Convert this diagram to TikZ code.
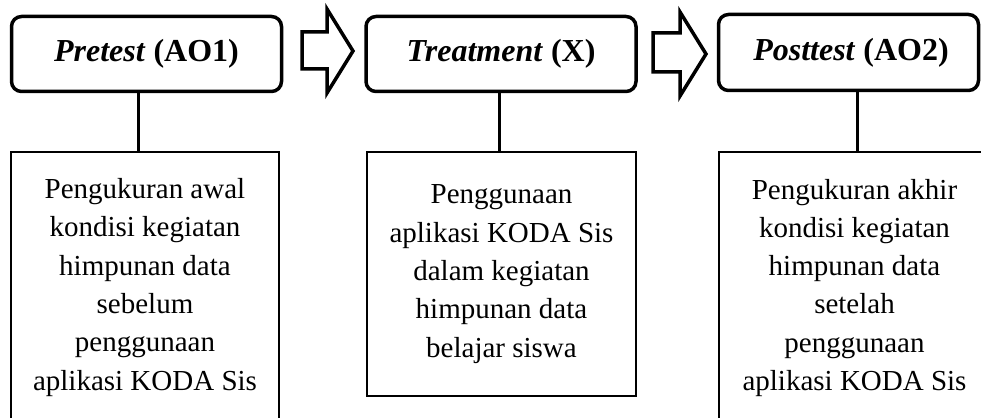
\documentclass[tikz,border=0pt]{standalone}
\usepackage{fontspec}
\setmainfont{Liberation Serif}
\begin{document}
\begin{tikzpicture}[x=1pt,y=-1pt,
  topbox/.style={draw, line width=3.5pt, rounded corners=10pt, minimum width=270pt, minimum height=75pt, inner sep=0pt,
    font=\fontsize{32}{38}\selectfont\bfseries},
  lowbox/.style={draw, line width=2pt, inner sep=0pt},
  lowtext/.style={align=center, anchor=base, inner sep=0pt, font=\fontsize{29}{38.3}\selectfont},
  link/.style={line width=3pt},
  blockarrow/.style={draw, line width=3.5pt, miter limit=10}]
\useasboundingbox (0,0) rectangle (981,417);
\clip (0,0) rectangle (981,417);
% top boxes
\node[topbox] (t1) at (146.5,54) {\textit{Pretest} (AO1)};
\node[topbox] (t2) at (501,54) {\textit{Treatment} (X)};
\node[topbox, minimum width=260pt, minimum height=76pt] (t3) at (848.5,52.5) {\hspace{5pt}\textit{Posttest} (AO2)};
% block arrows
\draw[blockarrow] (302,32) -- (327,32) -- (327,9) -- (353,51) -- (327,93) -- (327,69) -- (302,69) -- cycle;
\draw[blockarrow] (653,33) -- (680,33) -- (680,12) -- (706,54) -- (680,96) -- (680,72) -- (653,72) -- cycle;
% lower boxes
\node[lowbox, minimum width=268pt, minimum height=288pt] (b1) at (145,296) {};
\node[lowbox, minimum width=269pt, minimum height=244pt] (b2) at (501.5,274) {};
\node[lowbox, minimum width=281pt, minimum height=288pt] (b3) at (859.5,296) {};
% texts of lower boxes (anchored at the baseline of the last line)
\node[lowtext] (b1t) at (145,390) {Pengukuran awal\\kondisi kegiatan\\himpunan data\\sebelum\\penggunaan\\aplikasi KODA Sis};
\node[lowtext] (b2t) at (501.5,357) {Penggunaan\\aplikasi KODA Sis\\dalam kegiatan\\himpunan data\\belajar siswa};
\node[lowtext] (b3t) at (854.5,390.5) {Pengukuran akhir\\kondisi kegiatan\\himpunan data\\setelah\\penggunaan\\aplikasi KODA Sis};
% connectors
\draw[link] ([xshift=-8.5pt]t1.south) -- ([xshift=-7pt]b1.north);
\draw[link] ([xshift=-2pt]t2.south) -- ([xshift=-2.5pt]b2.north);
\draw[link] ([xshift=8.5pt]t3.south) -- ([xshift=-2.5pt]b3.north);
\end{tikzpicture}
\end{document}
